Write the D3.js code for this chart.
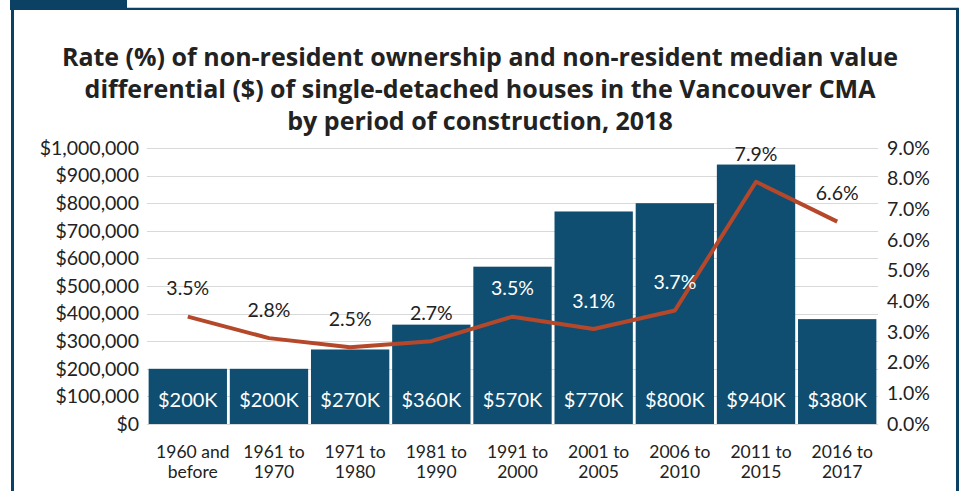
<!DOCTYPE html>
<html>
<head>
<meta charset="utf-8">
<script src="https://cdn.jsdelivr.net/npm/d3@7"></script>
<style>
  body { margin: 0; background: #fff; }
  svg text { font-family: "Lato", "Open Sans", sans-serif; fill: #222; }
  .title { font-family: "Open Sans", sans-serif; font-weight: bold; font-size: 25px; }
  .tick text { font-size: 19.5px; }
  .catLabel { font-size: 17.5px; }
  .barLabel { font-size: 20px; fill: #fff; }
  .rateLabel { font-size: 19.5px; }
</style>
</head>
<body>
<div id="chart"></div>
<script>

var periods = ["1960 and|before", "1961 to|1970", "1971 to|1980", "1981 to|1990", "1991 to|2000",
               "2001 to|2005", "2006 to|2010", "2011 to|2015", "2016 to|2017"];
var medianDiff = [200000, 200000, 270000, 360000, 570000, 770000, 800000, 940000, 380000];
var barLabels = ["$200K", "$200K", "$270K", "$360K", "$570K", "$770K", "$800K", "$940K", "$380K"];
var rates = [3.5, 2.8, 2.5, 2.7, 3.5, 3.1, 3.7, 7.9, 6.6];
var dollarTicks = [0, 100000, 200000, 300000, 400000, 500000, 600000, 700000, 800000, 900000, 1000000];
var rateTicks = [0, 1, 2, 3, 4, 5, 6, 7, 8, 9];
var titleLines = ["Rate (%) of non-resident ownership and non-resident median value",
                  "differential ($) of single-detached houses in the Vancouver CMA",
                  "by period of construction, 2018"];

var width = 961;
var height = 491;
var margin = {top: 148, right: 83, bottom: 67, left: 147};

var svg = d3.select("#chart")
  .append("svg")
  .attr("width", width)
  .attr("height", height);

// frame
svg.append("rect").attr("x", 10).attr("y", 0).attr("width", 117).attr("height", 8).attr("fill", "#0b4163");
svg.append("rect").attr("x", 127).attr("y", 7).attr("width", 832).attr("height", 1).attr("fill", "#c5ccd3");
svg.append("rect").attr("x", 10).attr("y", 8).attr("width", 949).attr("height", 2).attr("fill", "#0b4163");
svg.append("rect").attr("x", 11).attr("y", 8).attr("width", 3).attr("height", 483).attr("fill", "#0b4163");
svg.append("rect").attr("x", 956).attr("y", 8).attr("width", 3).attr("height", 483).attr("fill", "#0b4163");

svg.selectAll(".title")
  .data(titleLines)
  .enter()
  .append("text")
  .attr("class", "title")
  .attr("x", 480)
  .attr("y", function(d, i) { return 57 + i * 32; })
  .attr("dy", "0.35em")
  .style("text-anchor", "middle")
  .text(function(d) { return d; });

var x0 = margin.left, x1 = width - margin.right;
var y0 = height - margin.bottom, y1 = margin.top;

var xScale = d3.scaleBand()
  .domain(d3.range(periods.length))
  .range([x0, x1])
  .paddingInner(0.035)
  .paddingOuter(0.02);

var yLeft = d3.scaleLinear().domain([0, 1000000]).range([y0, y1]);
var yRight = d3.scaleLinear().domain([0, 9]).range([y0, y1]);

// gridlines
svg.append("g")
  .selectAll("line")
  .data(dollarTicks)
  .enter()
  .append("line")
  .attr("x1", x0)
  .attr("x2", x1)
  .attr("y1", function(d) { return Math.round(yLeft(d)) + 0.5; })
  .attr("y2", function(d) { return Math.round(yLeft(d)) + 0.5; })
  .attr("stroke", "#d9d9d9")
  .attr("stroke-width", 1);

var leftAxis = svg.append("g")
  .attr("transform", "translate(" + (x0 - 6) + ",0)")
  .call(d3.axisLeft(yLeft).tickValues(dollarTicks).tickSize(0).tickPadding(2)
    .tickFormat(function(d) { return "$" + d3.format(",")(d); }));
leftAxis.select(".domain").remove();

var rightAxis = svg.append("g")
  .attr("transform", "translate(" + (x1 + 9) + ",0)")
  .call(d3.axisRight(yRight).tickValues(rateTicks).tickSize(0).tickPadding(0)
    .tickFormat(function(d) { return d.toFixed(1) + "%"; }));
rightAxis.select(".domain").remove();

svg.selectAll(".tick text").attr("fill", "#222").style("font-family", "Lato, sans-serif");

// bars
svg.selectAll(".bar")
  .data(medianDiff)
  .enter()
  .append("rect")
  .attr("class", "bar")
  .attr("x", function(d, i) { return xScale(i); })
  .attr("y", function(d) { return yLeft(d); })
  .attr("width", xScale.bandwidth())
  .attr("height", function(d) { return y0 - yLeft(d); })
  .attr("fill", "#0f4e70");

svg.selectAll(".barLabel")
  .data(barLabels)
  .enter()
  .append("text")
  .attr("class", "barLabel")
  .attr("x", function(d, i) { return xScale(i) + xScale.bandwidth() / 2; })
  .attr("y", 400)
  .attr("dy", "0.35em")
  .style("text-anchor", "middle")
  .text(function(d) { return d; });

// rate line
var line = d3.line()
  .x(function(d, i) { return xScale(i) + xScale.bandwidth() / 2; })
  .y(function(d) { return yRight(d); });

svg.append("path")
  .datum(rates)
  .attr("d", line)
  .attr("fill", "none")
  .attr("stroke", "#b5482a")
  .attr("stroke-width", 4)
  .attr("stroke-linejoin", "round");

svg.selectAll(".rateLabel")
  .data(rates)
  .enter()
  .append("text")
  .attr("class", "rateLabel")
  .attr("x", function(d, i) { return xScale(i) + xScale.bandwidth() / 2; })
  .attr("y", function(d) { return yRight(d) - 28; })
  .attr("dy", "0.35em")
  .style("text-anchor", "middle")
  .style("fill", function(d, i) {
    return (yRight(d) - 28 > yLeft(medianDiff[i])) ? "#fff" : "#222";
  })
  .text(function(d) { return d.toFixed(1) + "%"; });

// category labels
var cats = svg.selectAll(".catLabel")
  .data(periods)
  .enter()
  .append("text")
  .attr("class", "catLabel")
  .attr("x", function(d, i) { return xScale(i) + xScale.bandwidth() / 2 + 5; })
  .attr("y", 452)
  .style("text-anchor", "middle");

cats.selectAll("tspan")
  .data(function(d, i) { return d.split("|").map(function(s) { return {s: s, i: i}; }); })
  .enter()
  .append("tspan")
  .attr("x", function(d) { return xScale(d.i) + xScale.bandwidth() / 2 + 5; })
  .attr("dy", function(d, j) { return j === 0 ? "0.35em" : "20px"; })
  .text(function(d) { return d.s; });

</script>
</body>
</html>
